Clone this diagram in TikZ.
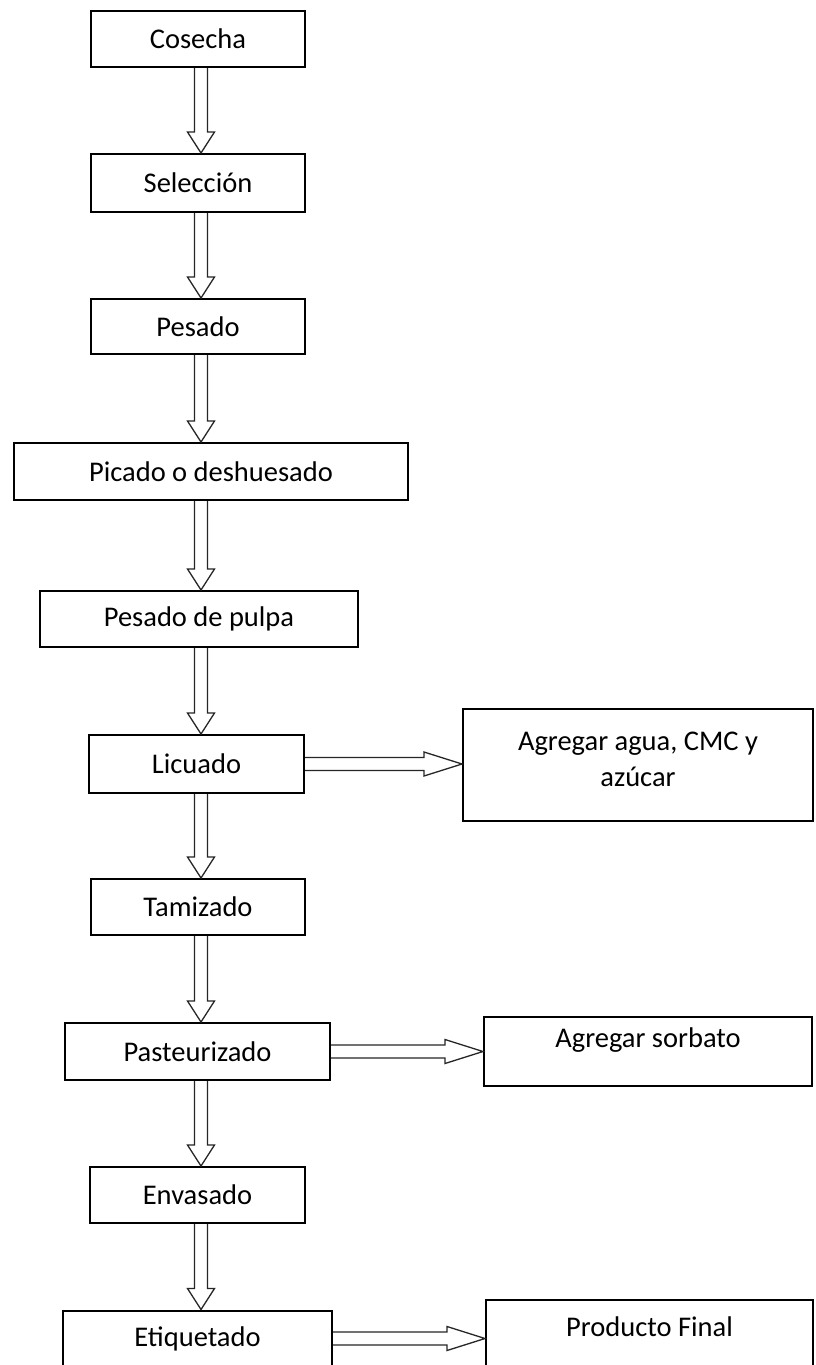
\documentclass[tikz,border=0pt]{standalone}
\usepackage{fontspec}
\setmainfont{Carlito}
\usetikzlibrary{calc}
\tikzset{
  box/.style={draw=black, line width=2pt, fill=white, inner sep=0pt,
    font=\fontsize{28.5}{36}\selectfont},
  txt/.style={inner sep=0pt, align=center, font=\fontsize{28.5}{36}\selectfont},
  varrow/.style={draw=black!85, line width=1.3pt, line join=miter,
    to path={let \p1=(\tikztostart), \p2=(\tikztotarget) in
      (\x1-6.5pt,\y1) -- (\x1-6.5pt,\y2+21pt) -- (\x1-13.5pt,\y2+21pt) -- (\x2,\y2)
      -- (\x1+13.5pt,\y2+21pt) -- (\x1+6.5pt,\y2+21pt) -- (\x1+6.5pt,\y1)}},
  harrow/.style={draw=black!85, line width=1.3pt, line join=miter,
    to path={let \p1=(\tikztostart), \p2=(\tikztotarget) in
      (\x1,\y1+6.5pt) -- (\x2-38pt,\y1+6.5pt) -- (\x2-38pt,\y1+12pt) -- (\x2,\y2)
      -- (\x2-38pt,\y1-12pt) -- (\x2-38pt,\y1-6.5pt) -- (\x1,\y1-6.5pt)}}
}
\begin{document}
\begin{tikzpicture}[x=1pt,y=-1pt]
\useasboundingbox (0,0) rectangle (816,1365);
\fill[white] (0,0) rectangle (816,1365);
\coordinate (spine) at (201,0);

\node[box, minimum width=214pt, minimum height=56pt] (cosecha) at (198,39) {Cosecha};
\node[box, minimum width=214pt, minimum height=58pt] (seleccion) at (198,183) {Selección};
\node[box, minimum width=214pt, minimum height=55pt] (pesado) at (198,326.5) {Pesado};
\node[box, minimum width=394pt, minimum height=57pt] (picado) at (211,471.5) {Picado o deshuesado};
\node[box, minimum width=318pt, minimum height=56pt] (pulpa) at (199,619) {Pesado de pulpa};
\node[box, minimum width=215pt, minimum height=58pt] (licuado) at (196.5,764) {Licuado};
\node[box, minimum width=214pt, minimum height=56pt] (tamizado) at (198,907) {Tamizado};
\node[box, minimum width=265pt, minimum height=57pt] (pasteurizado) at (197.5,1051.5) {Pasteurizado};
\node[box, minimum width=215pt, minimum height=56pt] (envasado) at (197.5,1195) {Envasado};
\node[box, minimum width=269pt, minimum height=56pt] (etiquetado) at (197.5,1338.5) {Etiquetado};

\node[box, minimum width=350pt, minimum height=112pt] (agua) at (638,765) {};
\node[txt] (aguat) at (638,759) {Agregar agua, CMC y\\azúcar};
\node[box, minimum width=328pt, minimum height=69pt] (sorbato) at (648,1051.5) {};
\node[txt] (sorbatot) at (648,1040) {Agregar sorbato};
\node[box, minimum width=327pt, minimum height=72pt] (final) at (649.5,1336) {};
\node[txt] (finalt) at (649.5,1327) {Producto Final};

\draw[varrow] (cosecha.south -| spine) to (seleccion.north -| spine);
\draw[varrow] (seleccion.south -| spine) to (pesado.north -| spine);
\draw[varrow] (pesado.south -| spine) to (picado.north -| spine);
\draw[varrow] (picado.south -| spine) to (pulpa.north -| spine);
\draw[varrow] (pulpa.south -| spine) to (licuado.north -| spine);
\draw[varrow] (licuado.south -| spine) to (tamizado.north -| spine);
\draw[varrow] (tamizado.south -| spine) to (pasteurizado.north -| spine);
\draw[varrow] (pasteurizado.south -| spine) to (envasado.north -| spine);
\draw[varrow] (envasado.south -| spine) to (etiquetado.north -| spine);

\draw[harrow] (licuado.east) to (agua.west |- licuado.east);
\draw[harrow] (pasteurizado.east) to (sorbato.west |- pasteurizado.east);
\draw[harrow] (etiquetado.east) to (final.west |- etiquetado.east);
\end{tikzpicture}
\end{document}
